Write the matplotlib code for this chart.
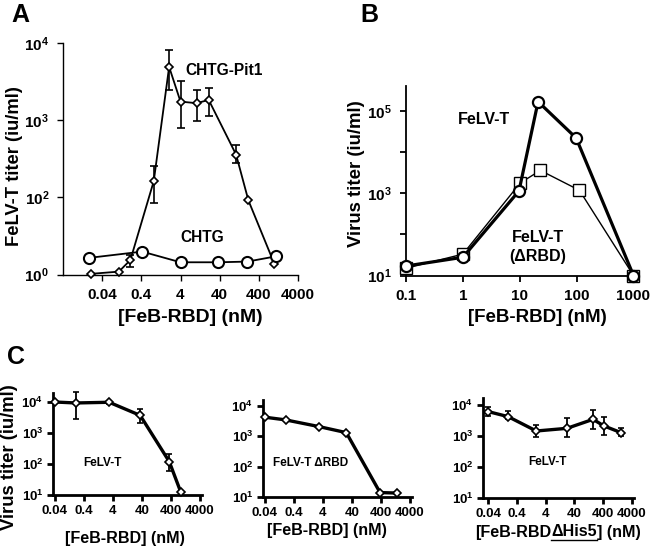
import matplotlib
matplotlib.use("Agg")
import matplotlib.pyplot as plt
from matplotlib.lines import Line2D

plt.rcParams['font.family'] = ['Liberation Sans', 'DejaVu Sans']
plt.rcParams['font.weight'] = 'bold'
plt.rcParams['mathtext.fontset'] = 'custom'
plt.rcParams['mathtext.rm'] = 'Liberation Sans:bold'
plt.rcParams['mathtext.it'] = 'Liberation Sans:bold'
plt.rcParams['mathtext.bf'] = 'Liberation Sans:bold'

# ---- panel A: FeLV-T titer on CHTG-Pit1 / CHTG cells ----
pit1_x = [0.021, 0.107, 0.21, 0.83, 2.05, 4, 10.3, 21, 105, 217, 1000]
pit1_y = [10.2, 10.9, 15.4, 162, 4900, 1740, 1660, 1830, 358, 91, 13.7]
pit1_lo = [10.2, 10.9, 12.6, 85, 2450, 800, 980, 1120, 280, 91, 13.7]
pit1_hi = [10.2, 10.9, 17.8, 253, 8100, 3200, 2460, 2600, 470, 91, 13.7]
chtg_x = [0.018, 0.42, 4, 37, 205, 1100]
chtg_y = [16.4, 19.8, 14.4, 14.4, 14.7, 17.2]

# ---- panel B: FeLV-T vs FeLV-T (dRBD) ----
felv_x = [0.1, 1, 9.7, 21, 98, 1000]
felv_y = [17, 27.7, 1130, 166000, 21800, 10]
drbd_x = [0.1, 1, 10.2, 23, 112, 1000]
drbd_y = [15, 33, 1760, 3560, 1170, 10]

# ---- panel C ----
c1_x = [0.04, 0.21, 3, 35, 350, 880]
c1_y = [10000, 9300, 9800, 3700, 120, 12.2]
c1_lo = [10000, 2800, 8500, 2100, 60, 12.2]
c1_hi = [10000, 21000, 11000, 6000, 214, 12.2]

c2_x = [0.04, 0.21, 3, 26, 380, 1450]
c2_y = [4300, 3500, 2100, 1330, 14, 13.5]

c3_x = [0.04, 0.2, 1.9, 22, 178, 420, 1670]
c3_y = [6200, 4240, 1460, 1780, 3470, 2140, 1290]
c3_lo = [4500, 3460, 960, 910, 1660, 1100, 1000]
c3_hi = [8500, 6400, 2300, 3700, 7200, 4000, 1870]

conc_ticks = [0.04, 0.4, 4, 40, 400, 4000]
conc_labels = ['0.04', '0.4', '4', '40', '400', '4000']
b_ticks = [0.1, 1, 10, 100, 1000]
b_labels = ['0.1', '1', '10', '100', '1000']

W, H = 653, 549
fig = plt.figure(figsize=(W / 100, H / 100), dpi=100)


def box(left, top, right, bottom):
    ax = fig.add_axes([left / W, 1 - bottom / H, (right - left) / W, (bottom - top) / H])
    ax.set_xscale('log')
    ax.set_yscale('log')
    ax.patch.set_alpha(0)
    ax.minorticks_off()
    return ax


def ftext(x, y, s, **kw):
    return fig.text(x / W, 1 - y / H, s, **kw)


def style(ax, lw, tick_size, pad):
    for side in ['top', 'right']:
        ax.spines[side].set_visible(False)
    for side in ['left', 'bottom']:
        ax.spines[side].set_linewidth(lw)
    ax.tick_params(which='both', direction='out', length=4, width=lw, pad=pad)
    for lab in ax.get_xticklabels() + ax.get_yticklabels():
        lab.set_fontsize(tick_size)
        lab.set_fontweight('bold')


def errs(y, lo, hi):
    return [[a - b for a, b in zip(y, lo)], [b - a for a, b in zip(y, hi)]]


# panel A
axA = box(63, 43, 298, 274.5)
axA.errorbar(pit1_x, pit1_y, yerr=errs(pit1_y, pit1_lo, pit1_hi), color='black',
             lw=1.3, marker='D', ms=4.5, mfc='white', mec='black', mew=1.2,
             elinewidth=1.2, capsize=3, capthick=1.2, clip_on=False, zorder=3)
axA.plot(chtg_x, chtg_y, color='black', lw=1.3, marker='o', ms=8, mfc='white',
         mec='black', mew=1.5, clip_on=False, zorder=4)
axA.set_xlim(0.004, 4000)
axA.set_ylim(10, 10000)
axA.set_xticks(conc_ticks, conc_labels)
axA.set_yticks([10, 100, 1000, 10000], [r'$10^{0}$', r'$10^{2}$', r'$10^{3}$', r'$10^{4}$'])
style(axA, 1.0, 11, 6)
ftext(185, 70, 'CHTG-Pit1', fontsize=11.2, va='center')
ftext(180, 238, 'CHTG', fontsize=11.2, va='center')
ftext(190, 318, '[FeB-RBD] (nM)', fontsize=14, ha='center', va='center')
ftext(15, 166, 'FeLV-T titer (iu/ml)', fontsize=13.2, ha='center', va='center',
      rotation=90)
ftext(11, 15, 'A', fontsize=18, va='center')

# panel B
axB = box(406, 86, 638, 275.5)
axB.plot(drbd_x, drbd_y, color='black', lw=1.0, marker='s', ms=9, mfc='white',
         mec='black', mew=1.0, clip_on=False, zorder=3)
axB.plot(felv_x, felv_y, color='black', lw=2.3, marker='o', ms=8, mfc='white',
         mec='black', mew=1.6, clip_on=False, zorder=4)
axB.set_xlim(0.1, 1200)
axB.set_ylim(10, 10 ** 5.6)
axB.set_xticks(b_ticks, b_labels)
axB.set_yticks([10, 1000, 100000], [r'$10^{1}$', r'$10^{3}$', r'$10^{5}$'])
axB.set_yticks([100, 10000], minor=True)
axB.tick_params(which='minor', labelleft=False)
style(axB, 1.3, 11, 6)
ftext(458, 120, 'FeLV-T', fontsize=11.5, va='center')
ftext(512, 238, 'FeLV-T', fontsize=11.5, va='center')
ftext(538, 257, '(ΔRBD)', fontsize=11.5, va='center', ha='center')
ftext(537, 318, '[FeB-RBD] (nM)', fontsize=13.5, ha='center', va='center')
ftext(357, 174, 'Virus titer (iu/ml)', fontsize=13.4, ha='center', va='center',
      rotation=90)
ftext(360, 15, 'B', fontsize=18, va='center')

# panel C
c_kw = dict(color='black', lw=2.4, marker='D', ms=4.5, mfc='white', mec='black',
            mew=1.2, clip_on=False, zorder=3)
c_err = dict(elinewidth=1.3, capsize=2.5, capthick=1.3)
c_yt = [10, 100, 1000, 10000]
c_yl = [r'$10^{1}$', r'$10^{2}$', r'$10^{3}$', r'$10^{4}$']

axC1 = box(53, 393, 202, 495)
axC1.errorbar(c1_x, c1_y, yerr=errs(c1_y, c1_lo, c1_hi), **c_kw, **c_err)
axC1.set_xlim(0.035, 4700)
axC1.set_ylim(10, 10 ** 4.29)
axC1.set_xticks(conc_ticks, conc_labels)
axC1.set_yticks(c_yt, c_yl)
style(axC1, 2.0, 9.5, 3)
ftext(83, 463, 'FeLV-T', fontsize=8.5, va='center')
ftext(125, 539, '[FeB-RBD] (nM)', fontsize=11.6, ha='center', va='center')
ftext(10, 457, 'Virus titer (iu/ml)', fontsize=13.3, ha='center', va='center',
      rotation=90)
ftext(7, 357, 'C', fontsize=18, va='center')

axC2 = box(263, 400, 412, 497)
axC2.plot(c2_x, c2_y, **c_kw)
axC2.set_xlim(0.035, 4800)
axC2.set_ylim(10, 10 ** 4.2)
axC2.set_xticks(conc_ticks, conc_labels)
axC2.set_yticks(c_yt, c_yl)
style(axC2, 2.0, 9.5, 3)
ftext(273, 463, 'FeLV-T ΔRBD', fontsize=8.5, va='center')
ftext(327, 531, '[FeB-RBD] (nM)', fontsize=11.6, ha='center', va='center')

axC3 = box(483, 398, 634, 498)
axC3.errorbar(c3_x, c3_y, yerr=errs(c3_y, c3_lo, c3_hi), **c_kw, **c_err)
axC3.set_xlim(0.0267, 4700)
axC3.set_ylim(10, 10 ** 4.23)
axC3.set_xticks(conc_ticks, conc_labels)
axC3.set_yticks(c_yt, c_yl)
style(axC3, 2.0, 9.5, 3)
ftext(528, 462, 'FeLV-T', fontsize=8.5, va='center')

# x label of C3 with underlined part, built from pieces
pieces = ['[FeB-RBD', 'ΔHis5', '] (nM)']
renderer = fig.canvas.get_renderer()
objs = [ftext(0, 532, p, fontsize=11.6, va='center') for p in pieces]
widths = [o.get_window_extent(renderer).width for o in objs]
x = 558 - sum(widths) / 2
for o, w in zip(objs, widths):
    o.set_position((x / W, 1 - 532 / H))
    if o.get_text() == 'ΔHis5':
        ul = Line2D([x / W, (x + w) / W], [1 - 540 / H, 1 - 540 / H],
                    transform=fig.transFigure, color='black', lw=1.0)
        fig.add_artist(ul)
    x += w

fig.savefig('out.png', dpi=100)
